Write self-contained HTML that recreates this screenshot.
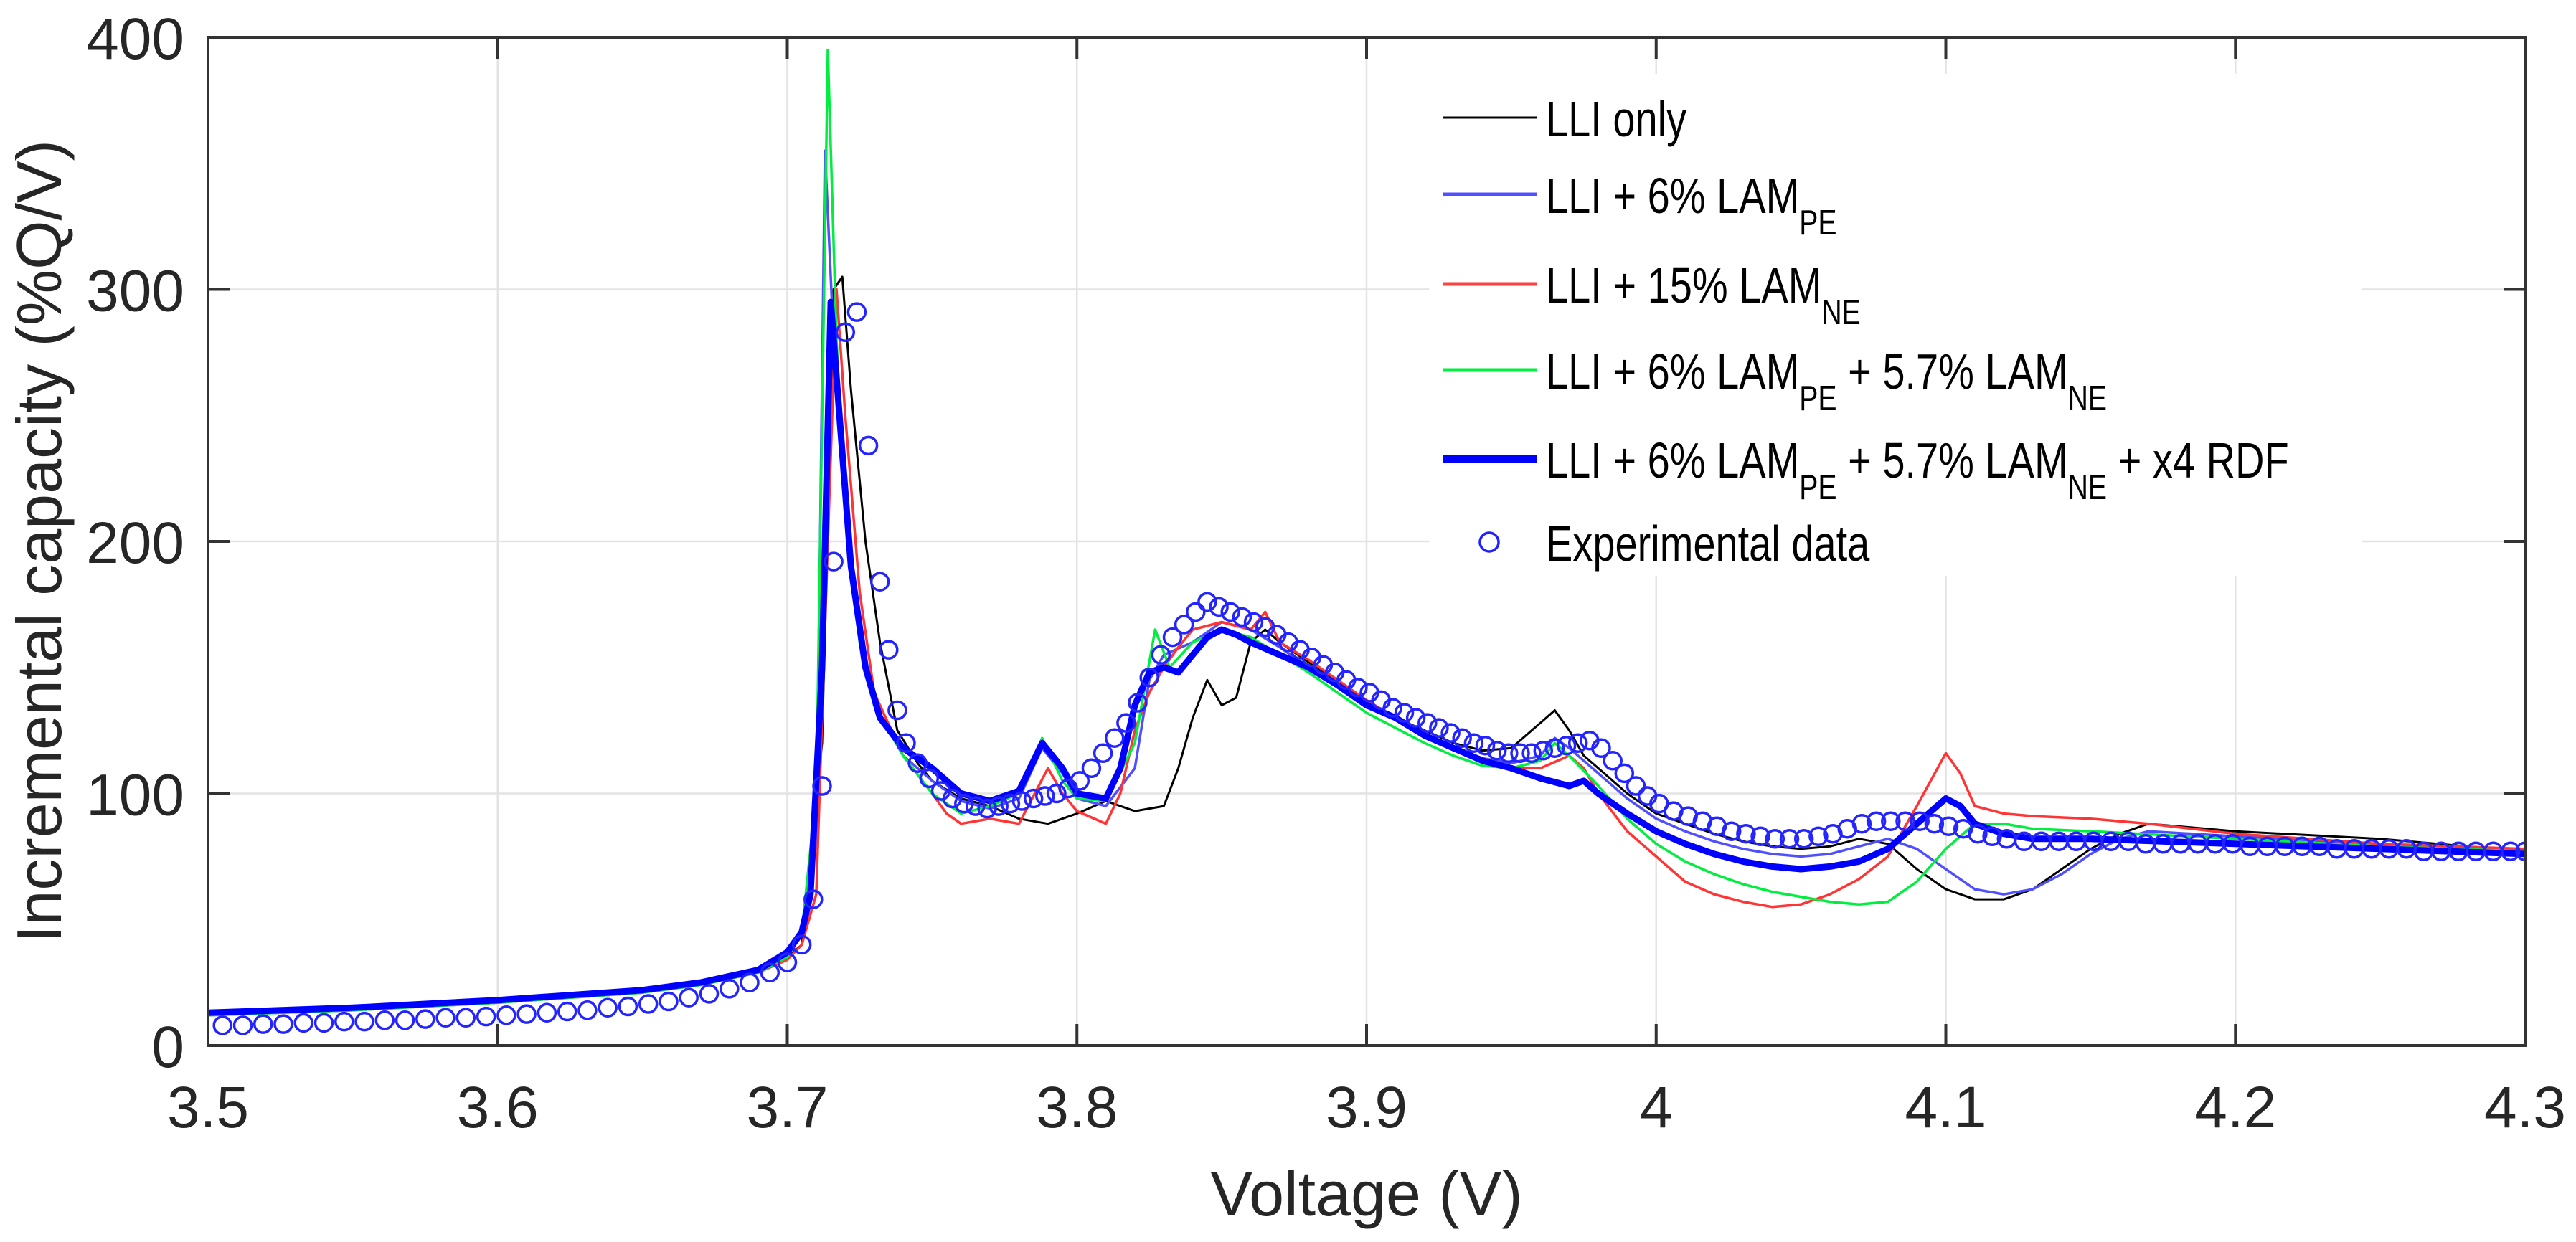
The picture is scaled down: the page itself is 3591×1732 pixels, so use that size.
<!DOCTYPE html>
<html><head><meta charset="utf-8"><style>
html,body{margin:0;padding:0;background:#fff;}
svg{display:block;font-family:"Liberation Sans",Arial,sans-serif;}
</style></head><body>
<svg id="chart" width="3591" height="1732" viewBox="0 0 3591 1732" xmlns="http://www.w3.org/2000/svg">
<defs><clipPath id="plotclip"><rect x="290" y="52" width="3230" height="1406"/></clipPath></defs>
<rect width="3591" height="1732" fill="#fff"/>
<g id="grid"></g>
<g id="series" clip-path="url(#plotclip)"></g>
<g id="axes"></g>
<g id="legend">
  <rect x="1992" y="103" width="1300" height="700" fill="#fff"/>
  <g>
    <line x1="2011" y1="164" x2="2142" y2="164" stroke="#000" stroke-width="3"/>
    <text transform="translate(2155,190) scale(0.8,1)" x="0" y="0" font-size="70" fill="#000">LLI only</text>
  </g>
  <g>
    <line x1="2011" y1="271" x2="2142" y2="271" stroke="#5050ff" stroke-width="5"/>
    <text transform="translate(2155,297) scale(0.8,1)" x="0" y="0" font-size="70" fill="#000">LLI + 6% LAM<tspan font-size="49" dy="30">PE</tspan></text>
  </g>
  <g>
    <line x1="2011" y1="396" x2="2142" y2="396" stroke="#ff4040" stroke-width="5"/>
    <text transform="translate(2155,422) scale(0.8,1)" x="0" y="0" font-size="70" fill="#000">LLI + 15% LAM<tspan font-size="49" dy="30">NE</tspan></text>
  </g>
  <g>
    <line x1="2011" y1="516" x2="2142" y2="516" stroke="#00f040" stroke-width="5"/>
    <text transform="translate(2155,542) scale(0.8,1)" x="0" y="0" font-size="70" fill="#000">LLI + 6% LAM<tspan font-size="49" dy="30">PE</tspan><tspan dy="-30"> + 5.7% LAM</tspan><tspan font-size="49" dy="30">NE</tspan></text>
  </g>
  <g>
    <line x1="2011" y1="640" x2="2142" y2="640" stroke="#0000ff" stroke-width="10"/>
    <text transform="translate(2155,666) scale(0.8,1)" x="0" y="0" font-size="70" fill="#000">LLI + 6% LAM<tspan font-size="49" dy="30">PE</tspan><tspan dy="-30"> + 5.7% LAM</tspan><tspan font-size="49" dy="30">NE</tspan><tspan dy="-30"> + x4 RDF</tspan></text>
  </g>
  <g>
    <circle cx="2076" cy="756" r="13" fill="none" stroke="#2020ff" stroke-width="3.5"/>
    <text transform="translate(2155,782) scale(0.8,1)" x="0" y="0" font-size="70" fill="#000">Experimental data</text>
  </g>
</g>
<text x="1905" y="1695" font-size="88" text-anchor="middle" fill="#262626">Voltage (V)</text>
<text transform="translate(85,755) rotate(-90)" font-size="88" text-anchor="middle" fill="#262626">Incremental capacity (%Q/V)</text>
</svg>
<script>
const xTicks=[3.5,3.6,3.7,3.8,3.9,4.0,4.1,4.2,4.3];
const xTickLabels=["3.5","3.6","3.7","3.8","3.9","4","4.1","4.2","4.3"];
const yTicks=[0,100,200,300,400];
const yTickLabels=["0","100","200","300","400"];

const lliV=[3.5,3.55,3.6,3.65,3.67,3.69,3.70,3.705,3.712,3.716,3.719,3.722,3.727,3.732,3.738,3.745,3.75,3.76,3.77,3.78,3.79,3.80,3.81,3.82,3.83,3.835,3.84,3.845,3.85,3.855,3.86,3.865,3.87,3.88,3.89,3.90,3.91,3.92,3.93,3.94,3.95,3.96,3.965,3.97,3.975,3.98,3.99,4.0,4.01,4.02,4.03,4.04,4.05,4.06,4.07,4.08,4.09,4.10,4.11,4.12,4.13,4.14,4.15,4.16,4.17,4.18,4.2,4.25,4.3];
const lliQ=[12,14,17,21,24,29,35,40,120,300,305,260,200,160,125,112,105,98,95,90,88,92,97,93,95,110,130,145,135,138,160,165,160,152,145,135,130,125,120,117,118,128,133,125,115,110,100,92,88,84,81,79,78,79,82,80,70,62,58,58,62,70,78,84,88,87,85,82,77];

const pe6V=[3.5,3.55,3.6,3.65,3.67,3.69,3.70,3.705,3.71,3.713,3.716,3.72,3.725,3.73,3.74,3.75,3.76,3.77,3.78,3.788,3.795,3.80,3.81,3.82,3.825,3.83,3.84,3.85,3.86,3.87,3.88,3.89,3.90,3.91,3.92,3.93,3.94,3.95,3.96,3.965,3.97,3.98,3.99,4.0,4.01,4.02,4.03,4.04,4.05,4.06,4.07,4.08,4.09,4.10,4.11,4.12,4.13,4.14,4.15,4.16,4.17,4.2,4.25,4.3];
const pe6Q=[12,14,17,21,24,29,35,45,80,355,280,210,160,135,115,105,97,94,98,118,108,98,95,110,145,155,160,168,165,158,150,143,136,130,124,118,114,112,115,122,118,108,98,90,85,81,78,76,75,76,79,82,78,70,62,60,62,68,76,82,85,83,80,77];

const ne15V=[3.5,3.55,3.6,3.65,3.67,3.69,3.70,3.705,3.71,3.714,3.717,3.72,3.725,3.73,3.74,3.75,3.755,3.76,3.77,3.78,3.79,3.795,3.80,3.81,3.815,3.82,3.825,3.83,3.835,3.84,3.85,3.86,3.865,3.87,3.88,3.89,3.90,3.91,3.92,3.93,3.94,3.95,3.96,3.97,3.975,3.98,3.99,4.0,4.01,4.02,4.03,4.04,4.05,4.06,4.07,4.08,4.09,4.10,4.105,4.11,4.12,4.13,4.15,4.17,4.2,4.25,4.3];
const ne15Q=[12,14,17,21,24,29,34,40,60,200,300,250,180,140,115,100,92,88,90,88,110,100,93,88,100,125,140,150,158,165,168,165,172,160,153,145,137,130,124,118,114,110,110,115,110,100,85,75,65,60,57,55,56,60,66,75,95,116,108,95,92,91,90,88,84,80,78];

const peneV=[3.5,3.55,3.6,3.65,3.67,3.69,3.70,3.705,3.71,3.714,3.717,3.72,3.725,3.73,3.74,3.75,3.76,3.77,3.78,3.788,3.795,3.80,3.81,3.82,3.827,3.832,3.84,3.85,3.86,3.87,3.88,3.89,3.90,3.91,3.92,3.93,3.94,3.95,3.96,3.965,3.97,3.98,3.99,4.0,4.01,4.02,4.03,4.04,4.05,4.06,4.07,4.08,4.09,4.10,4.11,4.12,4.13,4.15,4.2,4.25,4.3];
const peneQ=[12,14,17,21,24,29,35,45,100,395,280,210,160,135,115,100,92,95,100,122,105,98,97,120,165,150,160,165,162,155,148,140,132,126,120,115,111,110,113,120,115,103,90,80,73,68,64,61,59,57,56,57,65,78,88,88,86,85,82,79,77];

const rdfV=[3.5,3.55,3.6,3.65,3.67,3.69,3.70,3.705,3.708,3.712,3.715,3.718,3.722,3.727,3.732,3.74,3.75,3.76,3.77,3.78,3.788,3.795,3.80,3.81,3.815,3.82,3.825,3.83,3.835,3.84,3.845,3.85,3.855,3.86,3.87,3.88,3.89,3.90,3.91,3.92,3.93,3.94,3.95,3.96,3.97,3.975,3.98,3.99,4.0,4.01,4.02,4.03,4.04,4.05,4.06,4.07,4.08,4.09,4.10,4.105,4.11,4.12,4.13,4.15,4.2,4.25,4.3];
const rdfQ=[13,15,18,22,25,30,37,45,60,150,295,250,190,150,130,118,110,100,97,101,120,110,100,98,110,135,148,150,148,155,162,165,163,160,155,150,143,135,130,123,118,113,110,106,103,105,100,92,85,80,76,73,71,70,71,73,78,88,98,95,88,84,82,82,80,78,76];

const expV=[3.505,3.512,3.519,3.526,3.533,3.540,3.547,3.554,3.561,3.568,3.575,3.582,3.589,3.596,3.603,3.610,3.617,3.624,3.631,3.638,3.645,3.652,3.659,3.666,3.673,3.680,3.687,3.694,3.700,3.705,
3.709,3.712,3.716,3.720,3.724,3.728,3.732,3.735,3.738,3.741,3.745,3.749,3.753,3.757,3.761,3.765,3.769,3.773,3.777,3.781,3.785,3.789,3.793,3.797,3.801,3.805,3.809,3.813,3.817,3.821,3.825,3.829,3.833,3.837,3.841,3.845,3.849,3.853,3.857,3.861,3.865,3.869,3.873,3.877,3.881,3.885,3.889,3.893,3.897,3.901,3.905,3.909,3.913,3.917,3.921,3.925,3.929,3.933,3.937,3.941,3.945,3.949,3.953,3.957,3.961,3.965,3.969,3.973,3.977,3.981,3.985,3.989,3.993,3.997,
4.001,4.006,4.011,4.016,4.021,4.026,4.031,4.036,4.041,4.046,4.051,4.056,4.061,4.066,4.071,4.076,4.081,4.086,4.091,4.096,4.101,4.106,4.111,4.116,4.121,4.127,4.133,4.139,4.145,4.151,4.157,4.163,4.169,4.175,4.181,4.187,4.193,4.199,4.205,4.211,4.217,4.223,4.229,4.235,4.241,4.247,4.253,4.259,4.265,4.271,4.277,4.283,4.289,4.295,4.300];
const expQ=[8,8,8.5,8.5,9,9,9.5,9.5,10,10,10.5,11,11,11.5,12,12.5,13,13.5,14,15,15.5,16.5,17.5,19,20.5,22.5,25,29,33,40,
58,103,192,283,291,238,184,157,133,120,112,106,101,98,96,95,94,95,96,97,98,99,100,102,105,110,116,122,128,136,146,155,162,167,172,176,174,172,170,168,166,163,160,157,154,151,148,145,142,140,137,134,132,130,128,126,124,122,120,119,117,116,116,116,117,118,119,120,121,118,113,108,103,99,
96,93,91,89,87,85,84,83,82,82,82,83,84,86,88,89,89,89,89,88,87,86,84,83,82,81,81,81,81,81,81,81,80,80,80,80,80,80,79,79,79,79,79,78,78,78,78,78,77,77,77,77,77,77,77];

const X0=290,X1=3520,Y0=1458,Y1=52;
function xs(v){return X0+(v-3.5)/(4.3-3.5)*(X1-X0);}
function ys(q){return Y0-q/400*(Y0-Y1);}
const NS="http://www.w3.org/2000/svg";
function mk(tag,attrs,parent){const e=document.createElementNS(NS,tag);for(const k in attrs)e.setAttribute(k,attrs[k]);parent.appendChild(e);return e;}

const grid=document.getElementById('grid');
const axes=document.getElementById('axes');
xTicks.forEach((t,i)=>{
  const x=xs(t);
  if(i>0&&i<xTicks.length-1){
    const g=mk('line',{x1:x,y1:Y1,x2:x,y2:Y0,stroke:'#e3e3e3','stroke-width':2.5},grid);
    
    
  }
  const t1=mk('line',{x1:x,y1:Y0,x2:x,y2:Y0-30,stroke:'#333','stroke-width':4},axes);
  
  
  const t2=mk('line',{x1:x,y1:Y1,x2:x,y2:Y1+30,stroke:'#333','stroke-width':4},axes);
  
  
  const lb=mk('text',{x:x,y:1572,'font-size':82,'text-anchor':'middle',fill:'#262626'},axes);
  lb.textContent=xTickLabels[i];
  
  
});
yTicks.forEach((t,i)=>{
  const y=ys(t);
  if(i>0&&i<yTicks.length-1){
    const g=mk('line',{x1:X0,y1:y,x2:X1,y2:y,stroke:'#e3e3e3','stroke-width':2.5},grid);
    
    
  }
  const t1=mk('line',{x1:X0,y1:y,x2:X0+30,y2:y,stroke:'#333','stroke-width':4},axes);
  
  
  const t2=mk('line',{x1:X1,y1:y,x2:X1-30,y2:y,stroke:'#333','stroke-width':4},axes);
  
  
  const lb=mk('text',{x:257,y:y+30,'font-size':82,'text-anchor':'end',fill:'#262626'},axes);
  lb.textContent=yTickLabels[i];
  
  
});
const box=mk('rect',{x:X0,y:Y1,width:X1-X0,height:Y0-Y1,fill:'none',stroke:'#333','stroke-width':4},axes);



const series=document.getElementById('series');
function drawLine(V,Q,color,w,name){
  const d=V.map((v,i)=>(i?'L':'M')+xs(v).toFixed(1)+','+ys(Q[i]).toFixed(1)).join(' ');
  const p=mk('path',{d:d,fill:'none',stroke:color,'stroke-width':w,'stroke-linejoin':'round'},series);
  
  
}
drawLine(lliV,lliQ,'#000000',3,'line-lli-only');
drawLine(pe6V,pe6Q,'#4f4fff',3.5,'line-lli-6pct-lam-pe');
drawLine(ne15V,ne15Q,'#ff3535',3.5,'line-lli-15pct-lam-ne');
drawLine(peneV,peneQ,'#00ee40',3.5,'line-lli-lam-pe-ne');
drawLine(rdfV,rdfQ,'#0000ff',9,'line-lli-lam-pe-ne-rdf');
expV.forEach((v,i)=>{
  const c=mk('circle',{cx:xs(v).toFixed(1),cy:ys(expQ[i]).toFixed(1),r:12,fill:'none',stroke:'#2424ff','stroke-width':3.5},series);
  
  
});
</script>
</body></html>
